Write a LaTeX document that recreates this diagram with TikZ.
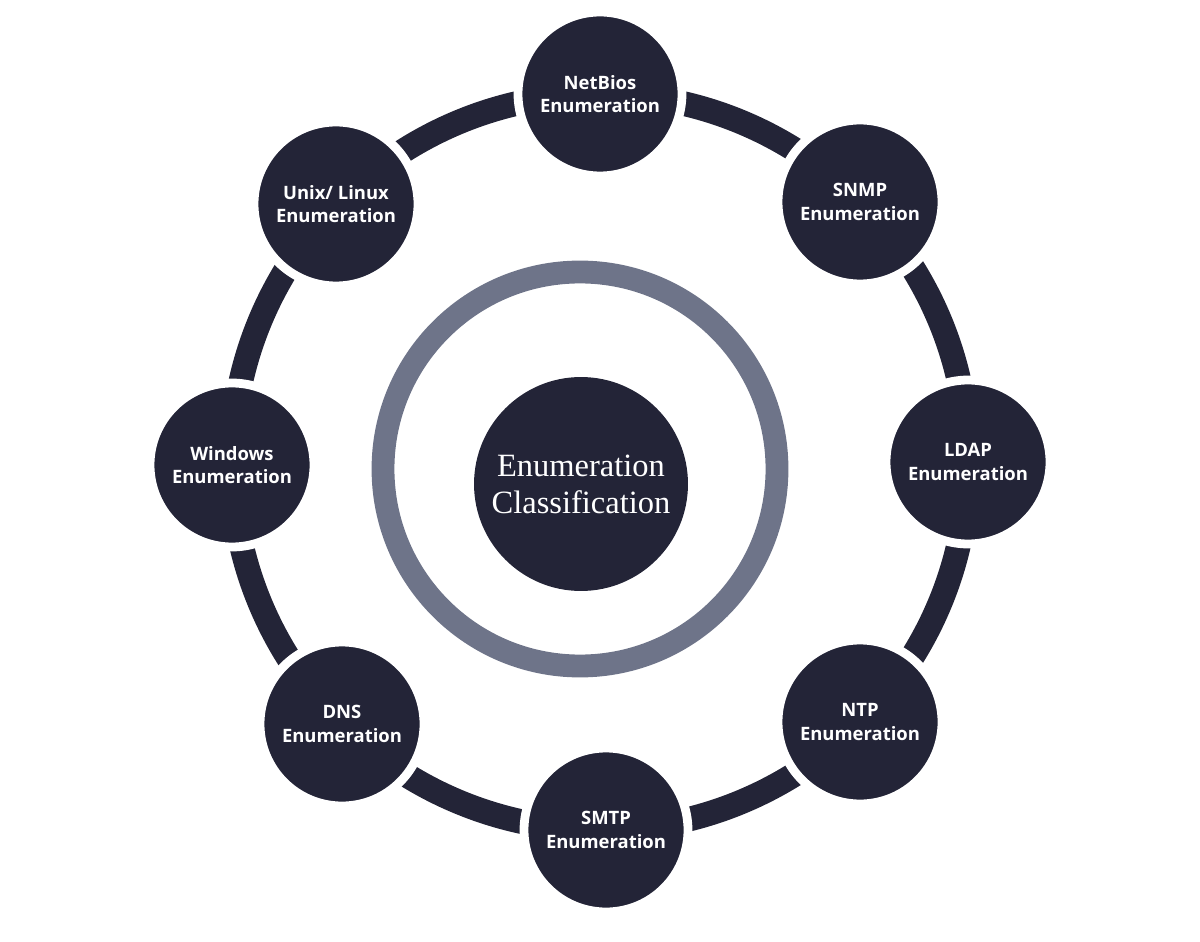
\documentclass[tikz,border=0pt]{standalone}
\usepackage{fontspec}
\setmainfont{Open Sans}
\newfontfamily\serifx{Liberation Serif}
\definecolor{navy}{HTML}{232437}
\definecolor{ringgray}{HTML}{6E7489}
\begin{document}
\begin{tikzpicture}[x=0.02cm,y=-0.02cm,
  sat/.style={circle,fill=navy,draw=white,line width=5pt,minimum size=3.28cm,inner sep=0pt,
    text=white,align=center,font=\bfseries\fontsize{10.5}{13.5}\selectfont}]
\useasboundingbox (0,0) rectangle (1200,942);
\coordinate (o) at (600,462);
\draw[navy,line width=14pt] (o) circle (368*0.02cm);
\draw[ringgray,line width=13pt] (580,469) circle (197*0.02cm);
\node[circle,fill=navy,minimum size=4.28cm,inner sep=0pt,text=white,align=center,
  font=\serifx\fontsize{18.5}{21}\selectfont] (c) at (581,484) {Enumeration\\Classification};
\node[sat] (n1) at (600,94) {NetBios\\Enumeration};
\node[sat] (n2) at (860,202) {SNMP\\Enumeration};
\node[sat] (n3) at (968,462) {LDAP\\Enumeration};
\node[sat] (n4) at (860,722) {NTP\\Enumeration};
\node[sat] (n5) at (606,830) {SMTP\\Enumeration};
\node[sat] (n6) at (342,724) {DNS\\Enumeration};
\node[sat] (n7) at (232,465) {Windows\\Enumeration};
\node[sat] (n8) at (336,204) {Unix/ Linux\\Enumeration};
\end{tikzpicture}
\end{document}
